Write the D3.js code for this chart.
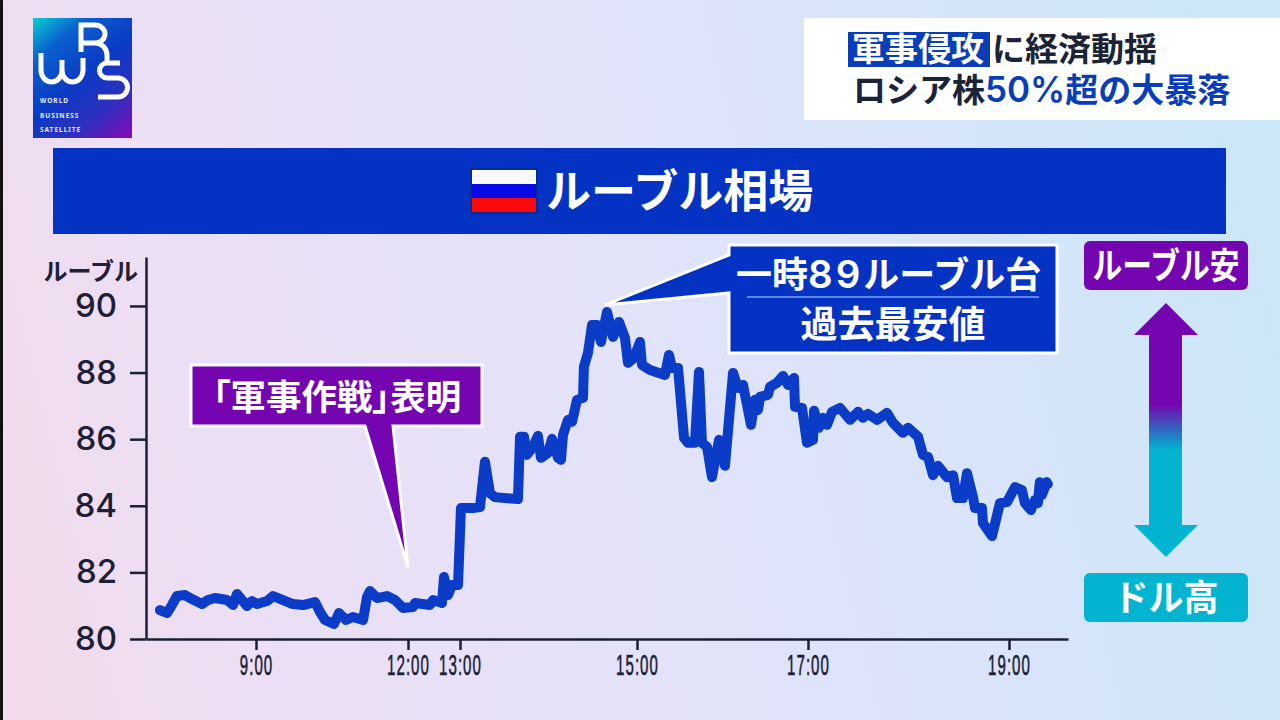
<!DOCTYPE html>
<html>
<head>
<meta charset="utf-8">
<script src="https://cdn.jsdelivr.net/npm/d3@7"></script>
<style>
html, body { margin: 0; padding: 0; background: #e8e2f6; overflow: hidden; }
svg { display: block; }
text { font-family: "Noto Sans CJK JP", "Noto Sans", sans-serif; }
</style>
</head>
<body>
<svg width="1280" height="720"></svg>
<script>
// hours on the broadcast's own clock, rouble per dollar
var rubleHours = [7.105, 7.244, 7.342, 7.441, 7.599, 7.737, 7.934, 8.053, 8.191, 8.428, 8.546, 8.625, 8.724, 8.822, 8.921, 9.020, 9.217, 9.336, 9.533, 9.730, 9.928, 10.164, 10.263, 10.362, 10.539, 10.638, 10.776, 10.914, 11.112, 11.191, 11.250, 11.388, 11.585, 11.743, 11.901, 12.096, 12.135, 12.423, 12.481, 12.654, 12.692, 12.769, 12.846, 12.962, 13.011, 13.147, 13.226, 13.282, 13.339, 13.395, 13.655, 13.678, 13.723, 13.757, 13.825, 13.881, 13.915, 13.994, 14.040, 14.107, 14.141, 14.164, 14.220, 14.266, 14.322, 14.390, 14.400, 14.446, 14.492, 14.548, 14.593, 14.661, 14.729, 14.797, 14.864, 14.898, 14.966, 15.035, 15.058, 15.152, 15.327, 15.374, 15.409, 15.480, 15.550, 15.596, 15.643, 15.678, 15.725, 15.760, 15.819, 15.877, 15.959, 16.029, 16.123, 16.181, 16.240, 16.333, 16.380, 16.415, 16.439, 16.532, 16.556, 16.637, 16.708, 16.766, 16.836, 16.848, 16.930, 16.988, 17.050, 17.060, 17.109, 17.149, 17.189, 17.239, 17.318, 17.418, 17.498, 17.547, 17.597, 17.687, 17.786, 17.846, 17.945, 17.995, 18.095, 18.144, 18.194, 18.244, 18.294, 18.383, 18.443, 18.483, 18.542, 18.582, 18.642, 18.662, 18.731, 18.741, 18.831, 18.910, 18.980, 19.060, 19.129, 19.159, 19.219, 19.259, 19.289, 19.308, 19.328, 19.378, 19.388]
var rubleRates = [80.87, 80.78, 81.02, 81.29, 81.32, 81.20, 81.05, 81.17, 81.23, 81.17, 81.02, 81.35, 81.17, 80.99, 81.14, 81.05, 81.14, 81.29, 81.17, 81.05, 81.02, 81.11, 80.81, 80.57, 80.45, 80.78, 80.57, 80.66, 80.57, 81.26, 81.44, 81.23, 81.29, 81.17, 80.93, 80.96, 81.08, 81.02, 81.17, 81.08, 81.86, 81.32, 81.62, 81.62, 83.93, 83.93, 83.96, 85.32, 84.38, 84.26, 84.20, 86.07, 86.07, 85.53, 85.77, 86.10, 85.44, 85.59, 86.01, 85.44, 85.38, 86.13, 86.58, 86.52, 87.18, 87.24, 88.17, 88.59, 89.43, 89.43, 88.92, 89.82, 89.07, 89.52, 89.04, 88.29, 88.44, 88.92, 88.23, 88.08, 87.93, 88.53, 88.14, 88.14, 86.04, 85.89, 85.89, 85.89, 88.02, 85.89, 85.77, 84.86, 85.98, 85.20, 87.99, 87.54, 87.63, 86.43, 87.18, 86.88, 87.27, 87.33, 87.57, 87.69, 87.90, 87.63, 87.84, 86.97, 86.94, 85.89, 85.98, 86.85, 86.34, 86.64, 86.43, 86.82, 86.94, 86.58, 86.82, 86.64, 86.76, 86.58, 86.79, 86.49, 86.19, 86.34, 86.07, 85.53, 85.47, 84.92, 85.20, 84.86, 84.92, 84.23, 84.23, 84.98, 84.26, 83.93, 83.93, 83.48, 83.09, 84.08, 84.11, 84.56, 84.47, 84.08, 83.87, 84.17, 84.08, 84.71, 84.32, 84.71, 84.65]

// the axis is not evenly spaced in time, so the scale gets its own breakpoints
var hourBreaks = [6.83, 9, 12, 13, 15, 17, 19, 19.59]
var hourPixels = [146, 256, 408, 460, 637, 808, 1009, 1068]
var hourTicks = [9, 12, 13, 15, 17, 19]
var rateTicks = [80, 82, 84, 86, 88, 90]

var navy = "#1b2036"
var blue = "#0433c4"
var lineBlue = "#0a3cc8"
var purple = "#7405b0"
var teal = "#03b4d0"

var svg = d3.select("svg")
var defs = svg.append("defs")

var addGradient = function (id, x1, y1, x2, y2, stops) {
    var grad = defs.append("linearGradient")
        .attr("id", id)
        .attr("gradientUnits", "userSpaceOnUse")
        .attr("x1", x1).attr("y1", y1)
        .attr("x2", x2).attr("y2", y2)
    stops.forEach(function (s) {
        grad.append("stop").attr("offset", s[0]).attr("stop-color", s[1])
    })
}

addGradient("bg", 0, 520, 1280, 200, [[0, "#f1dbec"], [0.18, "#ecdff5"], [0.5, "#e2e3f9"], [0.8, "#d5e5f9"], [1, "#cbe7f8"]])
addGradient("logoBg", 33, 18, 132, 138, [[0, "#06d0d0"], [0.22, "#0a5fd0"], [0.5, "#0a3ac4"], [0.75, "#2f2fc0"], [1, "#8a08b8"]])
addGradient("arrowGrad", 0, 303, 0, 557, [[0, purple], [0.4, purple], [0.55, "#1199cc"], [0.58, teal], [1, teal]])

var drawBackground = function () {
    svg.append("rect").attr("width", 1280).attr("height", 720).attr("fill", "url(#bg)")
    svg.append("rect").attr("width", 3).attr("height", 720).attr("fill", "#111")
}

var drawLogo = function () {
    var logo = svg.append("g")
    logo.append("rect")
        .attr("x", 33).attr("y", 18).attr("width", 99).attr("height", 120)
        .attr("fill", "url(#logoBg)")
    logo.append("path")
        .attr("d", "M41,53 V70 A10.5,12 0 0 0 62,70 V60 V70 A10.5,12 0 0 0 83,70 V58"
            + " M81,52 V25 H95 A10,9 0 0 1 95,43 H81 M95,43 A12,12 0 0 1 107,55 V63"
            + " M120,63 H107 A7.5,7.5 0 0 0 107,78 H118 A9.5,9.5 0 0 1 118,97 H98")
        .attr("fill", "none")
        .attr("stroke", "#fff")
        .attr("stroke-width", 5)
    logo.selectAll("text")
        .data([["WORLD", 103], ["BUSINESS", 118], ["SATELLITE", 132]])
        .enter()
        .append("text")
        .text(function (d) { return d[0] })
        .attr("x", 40)
        .attr("y", function (d) { return d[1] })
        .attr("fill", "#e8ecff")
        .attr("font-size", 6.5)
        .attr("font-weight", 700)
        .attr("letter-spacing", 1)
        .style("font-family", "'Noto Sans', sans-serif")
}

var drawHeadline = function () {
    svg.append("rect")
        .attr("x", 804).attr("y", 18).attr("width", 476).attr("height", 102)
        .attr("fill", "#fff")
    svg.append("rect")
        .attr("x", 848).attr("y", 32).attr("width", 142).attr("height", 35)
        .attr("fill", "#0a3eb8")

    svg.append("text").text("軍事侵攻")
        .attr("x", 852).attr("y", 61)
        .attr("font-size", 33).attr("font-weight", 700).attr("fill", "#fff")
    svg.append("text").text("に経済動揺")
        .attr("x", 992).attr("y", 61)
        .attr("font-size", 33).attr("font-weight", 700).attr("fill", "#1b2336")

    var second = svg.append("text")
        .attr("x", 853).attr("y", 102)
        .attr("font-size", 33).attr("font-weight", 700)
    second.append("tspan").text("ロシア株").attr("fill", "#1b2336")
    second.append("tspan").text("50%")
        .attr("fill", "#0a3eb8")
        .attr("font-weight", 600)
        .attr("font-size", 35)
        .style("font-family", "Inter, sans-serif")
    second.append("tspan").text("超の大暴落").attr("fill", "#0a3eb8")
}

var drawTitleBar = function () {
    svg.append("rect")
        .attr("x", 53).attr("y", 148).attr("width", 1173).attr("height", 86)
        .attr("fill", blue)

    var flag = svg.append("g")
    flag.append("rect")
        .attr("x", 470).attr("y", 168).attr("width", 68).attr("height", 46)
        .attr("fill", "#0a2a90")
    flag.append("rect").attr("x", 472).attr("y", 170).attr("width", 64).attr("height", 14).attr("fill", "#f8f8f8")
    flag.append("rect").attr("x", 472).attr("y", 184).attr("width", 64).attr("height", 14).attr("fill", "#0a0ae6")
    flag.append("rect").attr("x", 472).attr("y", 198).attr("width", 64).attr("height", 14).attr("fill", "#fa0a0a")

    svg.append("text")
        .text("ルーブル相場")
        .attr("x", 546).attr("y", 208)
        .attr("font-size", 45).attr("font-weight", 700)
        .attr("fill", "#fff")
}

var drawAxes = function (xScale, yScale) {
    var xAxis = d3.axisBottom(xScale)
        .tickValues(hourTicks)
        .tickSize(11)
        .tickSizeOuter(0)
        .tickFormat(function (h) { return h + ":00" })

    var yAxis = d3.axisLeft(yScale)
        .tickValues(rateTicks)
        .tickSize(16)
        .tickSizeOuter(0)
        .tickPadding(13)

    var xG = svg.append("g")
        .attr("transform", "translate(0,639)")
        .call(xAxis)
    // the clock labels are squeezed sideways in the original
    xG.selectAll("text")
        .attr("y", 36)
        .attr("dy", 0)
        .attr("transform", "scale(0.52,1)")
        .attr("font-size", 29)
        .attr("letter-spacing", 2)
        .attr("fill", navy)
        .attr("stroke", navy)
        .attr("stroke-width", 0.6)
        .style("font-family", "'Liberation Sans', sans-serif")

    var yG = svg.append("g")
        .attr("transform", "translate(146,0)")
        .call(yAxis)
    yG.selectAll("text")
        .attr("font-size", 33)
        .attr("font-weight", 500)
        .attr("fill", navy)
        .style("font-family", "Inter, sans-serif")

    svg.selectAll(".domain, .tick line")
        .attr("stroke", navy)
        .attr("stroke-width", 2.5)

    svg.append("text")
        .text("ルーブル")
        .attr("x", 138).attr("y", 280)
        .attr("text-anchor", "end")
        .attr("font-size", 24).attr("font-weight", 700)
        .attr("fill", navy)
}

var drawLine = function (xScale, yScale) {
    var lineGenerator = d3.line()
        .x(function (h) { return xScale(h) })
        .y(function (h, i) { return yScale(rubleRates[i]) })

    svg.append("path")
        .datum(rubleHours)
        .attr("d", lineGenerator)
        .attr("fill", "none")
        .attr("stroke", lineBlue)
        .attr("stroke-width", 10)
        .attr("stroke-linejoin", "round")
        .attr("stroke-linecap", "round")
}

var drawCallouts = function (xScale, yScale) {
    // purple one points at the noon announcement
    svg.append("path")
        .attr("d", "M191,365 H482 V426 H393 L" + xScale(12) + "," + yScale(82.15) + " L365,426 H191 Z")
        .attr("fill", purple)
        .attr("stroke", "#fff")
        .attr("stroke-width", 3)
    svg.append("text")
        .text("「軍事作戦」表明")
        .attr("x", 337).attr("y", 410)
        .attr("text-anchor", "middle")
        .attr("font-size", 35.5).attr("font-weight", 700)
        .attr("fill", "#fff")
        .style("font-feature-settings", "'palt'")

    // blue one points at the record low of the rouble
    svg.append("path")
        .attr("d", "M729,245 H1057 V353 H729 V293 L" + xScale(14.64) + "," + yScale(90.03) + " L729,255 Z")
        .attr("fill", blue)
        .attr("stroke", "#fff")
        .attr("stroke-width", 3)
    svg.append("line")
        .attr("x1", 747).attr("x2", 1039)
        .attr("y1", 297).attr("y2", 297)
        .attr("stroke", "#5f86ea")
        .attr("stroke-width", 2)

    var top = svg.append("text")
        .attr("x", 736).attr("y", 288)
        .attr("font-size", 36).attr("font-weight", 700)
        .attr("fill", "#fff")
    top.append("tspan").text("一時")
    top.append("tspan").text("89")
        .attr("font-size", 38.5)
        .attr("font-weight", 600)
        .attr("letter-spacing", 3)
        .style("font-family", "Inter, sans-serif")
    top.append("tspan").text("ルーブル台")

    svg.append("text")
        .text("過去最安値")
        .attr("x", 893).attr("y", 338)
        .attr("text-anchor", "middle")
        .attr("font-size", 37).attr("font-weight", 700)
        .attr("fill", "#fff")
}

var drawDirection = function () {
    svg.append("path")
        .attr("d", "M1166,303 L1198,335 H1182 V525 H1198 L1166,557 L1134,525 H1149 V335 H1134 Z")
        .attr("fill", "url(#arrowGrad)")

    var labels = [["ルーブル安", 241, purple, 147], ["ドル高", 573, teal, 105]]
    labels.forEach(function (d) {
        svg.append("rect")
            .attr("x", 1084).attr("y", d[1]).attr("width", 164).attr("height", 49)
            .attr("rx", 6)
            .attr("fill", d[2])
        svg.append("text")
            .text(d[0])
            .attr("x", 1166).attr("y", d[1] + 38)
            .attr("text-anchor", "middle")
            .attr("textLength", d[3])
            .attr("lengthAdjust", "spacingAndGlyphs")
            .attr("font-size", 36).attr("font-weight", 700)
            .attr("fill", "#fff")
    })
}

var initGraph = function () {
    var xScale = d3.scaleLinear().domain(hourBreaks).range(hourPixels)
    var yScale = d3.scaleLinear().domain([80, 91.47]).range([639, 257])

    drawBackground()
    drawLogo()
    drawHeadline()
    drawTitleBar()
    drawAxes(xScale, yScale)
    drawLine(xScale, yScale)
    drawCallouts(xScale, yScale)
    drawDirection()
}

initGraph()
</script>
</body>
</html>
